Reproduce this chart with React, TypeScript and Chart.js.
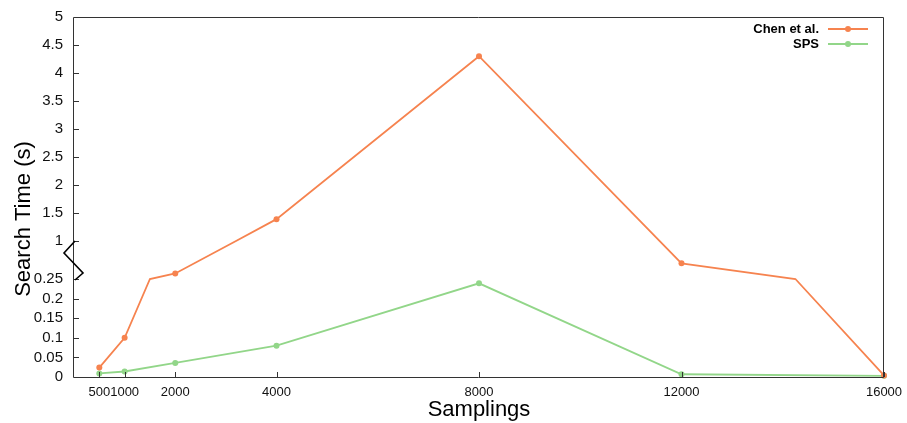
import React, { useEffect, useRef } from 'react';
import { Chart, registerables } from 'chart.js';

Chart.register(...registerables);

// ---- data ----
const samplingTicks = [500, 1000, 2000, 4000, 8000, 12000, 16000];
const timeTicks = [0, 0.05, 0.1, 0.15, 0.2, 0.25, 1, 1.5, 2, 2.5, 3, 3.5, 4, 4.5, 5];

const chenLabel = 'Chen et al.';
const chenX = [500, 1000, 1500, 2000, 3200, 4000, 8000, 12000, 14250, 16000];
const chenY = [0.024, 0.1, 0.25, 0.36, 1.0, 1.39, 4.3, 0.56, 0.25, 0.004];
const chenMarked = [true, true, false, true, false, true, true, true, false, true];

const spsLabel = 'SPS';
const spsX = [500, 1000, 2000, 4000, 8000, 12000, 16000];
const spsY = [0.009, 0.014, 0.036, 0.08, 0.239, 0.007, 0.003];

// ---- broken y axis: 0..0.25 | gap | 1..5 ----
const LOW_TOP = 0.25;
const HIGH_BOTTOM = 1;
const HIGH_TOP = 5;
const LOW_SPAN = 98;
const GAP_SPAN = 38;
const HIGH_SPAN = 224;
const AXIS_MAX = LOW_SPAN + GAP_SPAN + HIGH_SPAN;

function toAxis(v: number): number {
  if (v <= LOW_TOP) return (v / LOW_TOP) * LOW_SPAN;
  if (v < HIGH_BOTTOM) return LOW_SPAN + ((v - LOW_TOP) / (HIGH_BOTTOM - LOW_TOP)) * GAP_SPAN;
  return LOW_SPAN + GAP_SPAN + ((v - HIGH_BOTTOM) / (HIGH_TOP - HIGH_BOTTOM)) * HIGH_SPAN;
}

const ORANGE = '#f6834f';
const GREEN = '#92d689';
const AXIS = '#333333';
const FONT = "'Liberation Sans', Arial, Helvetica, sans-serif";

const decorPlugin = {
  id: 'decor',
  afterDraw(chart: any) {
    const { ctx, chartArea } = chart;
    const { left, right, top, bottom } = chartArea;
    const xs = chart.scales.x;
    const ys = chart.scales.y;
    ctx.save();
    // frame
    ctx.strokeStyle = AXIS;
    ctx.lineWidth = 1;
    ctx.beginPath();
    ctx.rect(Math.round(left) - 0.5, Math.round(top) + 0.5, Math.round(right - left), Math.round(bottom - top));
    ctx.stroke();
    // inward ticks
    ctx.beginPath();
    for (const t of timeTicks) {
      const y = Math.round(ys.getPixelForValue(toAxis(t))) + 0.5;
      ctx.moveTo(left, y);
      ctx.lineTo(left + 5, y);
    }
    for (const t of samplingTicks) {
      const x = Math.round(xs.getPixelForValue(t)) + 0.5;
      ctx.moveTo(x, bottom);
      ctx.lineTo(x, bottom - 5);
    }
    ctx.stroke();
    // break zigzag
    const y1 = ys.getPixelForValue(toAxis(HIGH_BOTTOM));
    const y0 = ys.getPixelForValue(toAxis(LOW_TOP));
    ctx.strokeStyle = '#000';
    ctx.lineWidth = 1.6;
    ctx.beginPath();
    ctx.moveTo(left + 1, y1);
    ctx.lineTo(left - 10, y1 + 12);
    ctx.lineTo(left + 9, y1 + 32);
    ctx.lineTo(left + 1, y0 + 1);
    ctx.stroke();
    // axis titles
    ctx.fillStyle = '#000';
    ctx.font = `22px ${FONT}`;
    ctx.textAlign = 'center';
    ctx.textBaseline = 'alphabetic';
    ctx.fillText('Samplings', (left + right) / 2, 416);
    ctx.save();
    ctx.translate(30, 219);
    ctx.rotate(-Math.PI / 2);
    ctx.fillText('Search Time (s)', 0, 0);
    ctx.restore();
    // legend
    const entries = [
      { label: chenLabel, color: ORANGE, y: 29 },
      { label: spsLabel, color: GREEN, y: 44 },
    ];
    ctx.font = `bold 13px ${FONT}`;
    ctx.textAlign = 'right';
    ctx.textBaseline = 'middle';
    for (const e of entries) {
      ctx.fillStyle = '#000';
      ctx.fillText(e.label, 819, e.y);
      ctx.strokeStyle = e.color;
      ctx.lineWidth = 2;
      ctx.beginPath();
      ctx.moveTo(828, e.y);
      ctx.lineTo(868, e.y);
      ctx.stroke();
      ctx.fillStyle = e.color;
      ctx.beginPath();
      ctx.arc(848, e.y, 3, 0, Math.PI * 2);
      ctx.fill();
    }
    ctx.restore();
  },
};

export default function App() {
  const canvasRef = useRef<HTMLCanvasElement | null>(null);

  useEffect(() => {
    document.body.style.margin = '0';
    const canvas = canvasRef.current;
    if (!canvas) return;
    const chart = new Chart(canvas, {
      type: 'line',
      data: {
        datasets: [
          {
            label: chenLabel,
            data: chenX.map((x, i) => ({ x, y: toAxis(chenY[i]) })),
            borderColor: ORANGE,
            backgroundColor: ORANGE,
            borderWidth: 1.8,
            pointRadius: chenMarked.map((m) => (m ? 3 : 0)),
            pointBorderWidth: 0,
            tension: 0,
            clip: false as any,
          },
          {
            label: spsLabel,
            data: spsX.map((x, i) => ({ x, y: toAxis(spsY[i]) })),
            borderColor: GREEN,
            backgroundColor: GREEN,
            borderWidth: 1.8,
            pointRadius: 3,
            pointBorderWidth: 0,
            tension: 0,
            clip: false as any,
          },
        ],
      },
      options: {
        responsive: false,
        animation: false,
        devicePixelRatio: 1,
        layout: { padding: { left: 0, right: 23, top: 17, bottom: 0 } },
        plugins: { legend: { display: false }, tooltip: { enabled: false } },
        scales: {
          x: {
            type: 'linear',
            min: 0,
            max: 16000,
            grid: { display: false, drawTicks: false },
            border: { display: false },
            afterBuildTicks: (scale: any) => {
              scale.ticks = samplingTicks.map((v) => ({ value: v }));
            },
            afterFit: (scale: any) => {
              scale.height = 46;
              scale.paddingLeft = 0;
              scale.paddingRight = 0;
            },
            ticks: {
              autoSkip: false,
              maxRotation: 0,
              minRotation: 0,
              padding: 8,
              color: '#111',
              font: { family: FONT, size: 13 },
              callback: (v: any) => String(v),
            },
          },
          y: {
            type: 'linear',
            min: 0,
            max: AXIS_MAX,
            grid: { display: false, drawTicks: false },
            border: { display: false },
            afterBuildTicks: (scale: any) => {
              scale.ticks = timeTicks.map((t) => ({ value: toAxis(t) }));
            },
            afterFit: (scale: any) => {
              scale.width = 74;
              scale.paddingTop = 0;
              scale.paddingBottom = 0;
            },
            ticks: {
              autoSkip: false,
              padding: 11,
              color: '#111',
              font: { family: FONT, size: 15 },
              callback: (v: any) => {
                const idx = timeTicks.findIndex((t) => Math.abs(toAxis(t) - v) < 1e-6);
                return idx >= 0 ? String(timeTicks[idx]) : '';
              },
            },
          },
        },
      },
      plugins: [decorPlugin],
    } as any);
    return () => chart.destroy();
  }, []);

  return <canvas ref={canvasRef} width={907} height={423} style={{ display: 'block' }} />;
}
